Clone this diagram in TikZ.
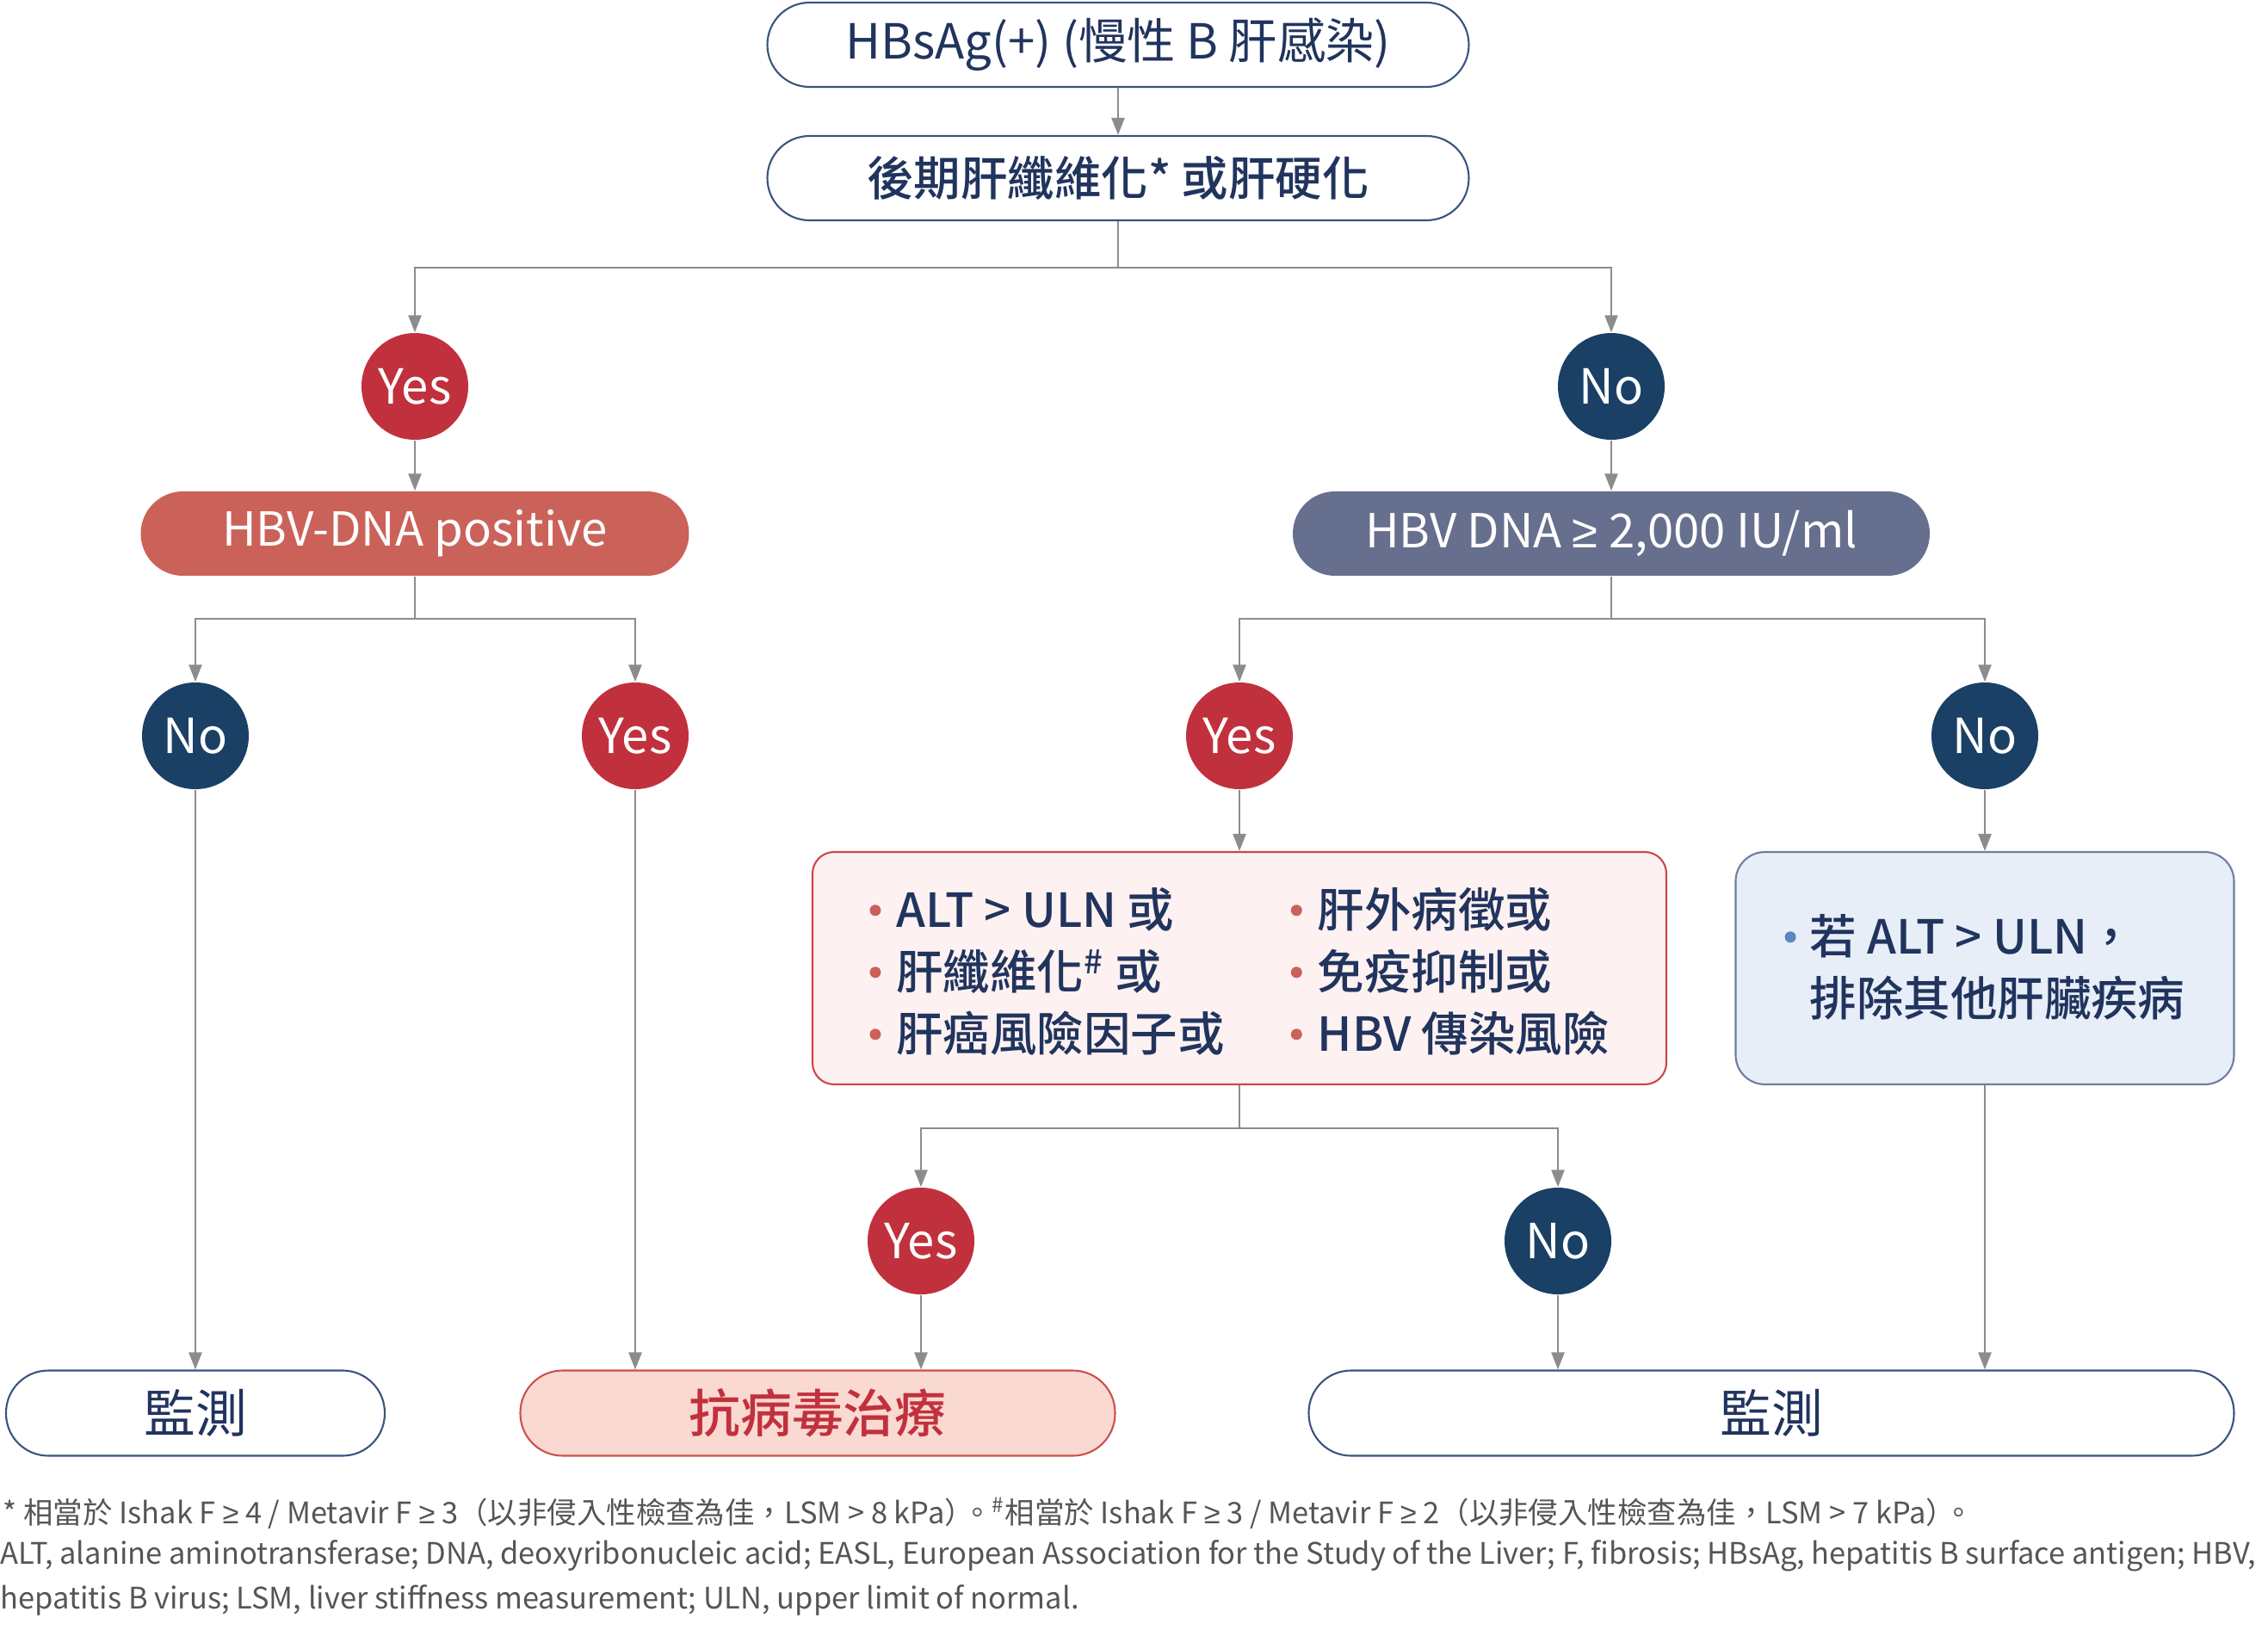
\documentclass[tikz,border=0pt]{standalone}
\usepackage{fontspec}
\setmainfont{Noto Sans CJK TC}[BoldFont={Noto Sans CJK TC Medium}]
\newfontfamily\geqfont{Liberation Sans}
\usepackage{tikz}
\usetikzlibrary{positioning,arrows.meta}
\definecolor{navytext}{RGB}{33,52,94}
\definecolor{boxnavy}{RGB}{58,84,126}
\definecolor{yesred}{RGB}{193,49,61}
\definecolor{nonavy}{RGB}{26,64,102}
\definecolor{posred}{RGB}{203,98,90}
\definecolor{hbvgray}{RGB}{103,111,142}
\definecolor{critfill}{RGB}{253,242,241}
\definecolor{critdraw}{RGB}{205,70,75}
\definecolor{bluefill}{RGB}{231,238,247}
\definecolor{bluedraw}{RGB}{110,125,160}
\definecolor{treatfill}{RGB}{249,217,209}
\definecolor{treatdraw}{RGB}{204,80,75}
\definecolor{dotred}{RGB}{203,98,90}
\definecolor{dotblue}{RGB}{91,134,192}
\definecolor{arrgray}{RGB}{140,140,140}
\definecolor{notegray}{RGB}{85,85,85}
\newcommand{\critdot}[1]{\tikz[baseline=0pt]\fill[#1] (0,0.36em) circle (0.065cm);}
\newcommand{\geqs}{{\geqfont ≥}}

\begin{document}
\begin{tikzpicture}[
  pill/.style={rectangle, rounded corners=0.49cm, draw=boxnavy, line width=0.6pt, fill=white,
               minimum width=8.15cm, minimum height=0.98cm, text=navytext, font=\fontsize{16}{19}\selectfont},
  capsule/.style={rectangle, rounded corners=0.49cm, minimum height=0.98cm, text=white,
                  font=\fontsize{15.5}{19}\selectfont},
  yesdot/.style={circle, fill=yesred, minimum size=1.24cm, inner sep=0pt, text=white,
                 font=\fontsize{16}{19}\selectfont},
  nodot/.style={circle, fill=nonavy, minimum size=1.24cm, inner sep=0pt, text=white,
                font=\fontsize{16}{19}\selectfont},
  endbox/.style={rectangle, rounded corners=0.49cm, draw=boxnavy, line width=0.6pt, fill=white,
                 minimum height=0.99cm, text=navytext, font=\fontsize{17}{20}\selectfont},
  listtext/.style={text=navytext, font=\fontsize{15.5}{20.5}\selectfont\bfseries},
  arr/.style={-{Triangle[length=2mm,width=1.5mm]}, draw=arrgray, line width=0.7pt},
  link/.style={draw=arrgray, line width=0.7pt},
  note/.style={anchor=west, inner sep=0pt, text=notegray, font=\fontsize{9.8}{12}\selectfont}
]
\useasboundingbox (0,0) rectangle (26.35,-18.94);
\node[pill] (hbsag) at (12.99,-0.52) {HBsAg(+) (慢性 B 肝感染)};
\node[pill, font=\fontsize{15.5}{18}\selectfont\bfseries] (fib) at (12.99,-2.07) {後期肝纖維化* 或肝硬化};
\node[yesdot] (yes1) at (4.82,-4.49) {Yes};
\node[nodot] (no1) at (18.72,-4.49) {No};
\node[capsule, fill=posred, minimum width=6.37cm] (pos) at (4.82,-6.20) {HBV-DNA positive};
\node[capsule, fill=hbvgray, minimum width=7.40cm] (hbv) at (18.72,-6.20) {HBV DNA \geqs{} 2,000 IU/ml};
\node[nodot] (no2) at (2.27,-8.55) {No};
\node[yesdot] (yes2) at (7.38,-8.55) {Yes};
\node[yesdot] (yes3) at (14.40,-8.55) {Yes};
\node[nodot] (no3) at (23.06,-8.55) {No};
\node[rectangle, rounded corners=0.25cm, draw=critdraw, line width=0.6pt, fill=critfill,
      minimum width=9.92cm, minimum height=2.70cm] (crit) at (14.40,-11.25) {};
\node[listtext] (crittext) at ([yshift=-0.1cm]crit.center)
  {\begin{tabular}{@{}l@{\hspace{0.77cm}}l@{}}
   \critdot{dotred}\hspace{0.18cm}ALT > ULN 或 & \critdot{dotred}\hspace{0.18cm}肝外病徵或\\
   \critdot{dotred}\hspace{0.18cm}肝纖維化\textsuperscript{\#} 或 & \critdot{dotred}\hspace{0.18cm}免疫抑制或\\
   \critdot{dotred}\hspace{0.18cm}肝癌風險因子或 & \critdot{dotred}\hspace{0.18cm}HBV 傳染風險
   \end{tabular}};
\node[rectangle, rounded corners=0.34cm, draw=bluedraw, line width=0.6pt, fill=bluefill,
      minimum width=5.79cm, minimum height=2.70cm] (alt) at (23.06,-11.25) {};
\node[listtext] (alttext) at ([yshift=-0.05cm]alt.center)
  {\begin{tabular}{@{}l@{\hspace{0.16cm}}l@{}}
   \critdot{dotblue} & 若 ALT > ULN，\\
    & 排除其他肝臟疾病
   \end{tabular}};
\node[yesdot] (yes4) at (10.70,-14.42) {Yes};
\node[nodot] (no4) at (18.10,-14.42) {No};
\node[endbox, minimum width=4.40cm] (mon1) at (2.27,-16.42) {監測};
\node[endbox, draw=treatdraw, fill=treatfill, text=yesred, minimum width=6.91cm,
      font=\fontsize{17}{20}\selectfont\bfseries] (treat) at (9.50,-16.42) {抗病毒治療};
\node[endbox, minimum width=10.75cm] (mon2) at (20.58,-16.42) {監測};
\coordinate (split1) at (12.99,-3.11);
\coordinate (split2) at (4.82,-7.19);
\coordinate (split3) at (18.72,-7.19);
\coordinate (split4) at (14.40,-13.11);
\draw[arr] (hbsag) -- (fib);
\draw[link] (fib) -- (split1);
\draw[arr] (split1) -| (yes1);
\draw[arr] (split1) -| (no1);
\draw[arr] (yes1) -- (pos);
\draw[arr] (no1) -- (hbv);
\draw[link] (pos) -- (split2);
\draw[arr] (split2) -| (no2);
\draw[arr] (split2) -| (yes2);
\draw[link] (hbv) -- (split3);
\draw[arr] (split3) -| (yes3);
\draw[arr] (split3) -| (no3);
\draw[arr] (yes3) -- (crit);
\draw[arr] (no3) -- (alt);
\draw[link] (crit) -- (split4);
\draw[arr] (split4) -| (yes4);
\draw[arr] (split4) -| (no4);
\draw[arr] (no2) -- (mon1);
\draw[arr] (yes2) -- (yes2 |- treat.north);
\draw[arr] (yes4) -- (yes4 |- treat.north);
\draw[arr] (no4) -- (no4 |- mon2.north);
\draw[arr] (alt) -- (alt |- mon2.north);
\node[note] (fn1) at (0.03,-17.58) {* 相當於 Ishak F \geqs{} 4 / Metavir F \geqs{} 3（以非侵入性檢查為佳，LSM > 8 kPa）\kern-0.4em。\textsuperscript{\#}相當於 Ishak F \geqs{} 3 / Metavir F \geqs{} 2（以非侵入性檢查為佳，LSM > 7 kPa）\kern-0.4em。};
\node[note] (fn2) at (0,-18.08) {ALT, alanine aminotransferase; DNA, deoxyribonucleic acid; EASL, European Association for the Study of the Liver; F, fibrosis; HBsAg, hepatitis B surface antigen; HBV,};
\node[note] (fn3) at (0,-18.59) {hepatitis B virus; LSM, liver stiffness measurement; ULN, upper limit of normal.};
\end{tikzpicture}
\end{document}
